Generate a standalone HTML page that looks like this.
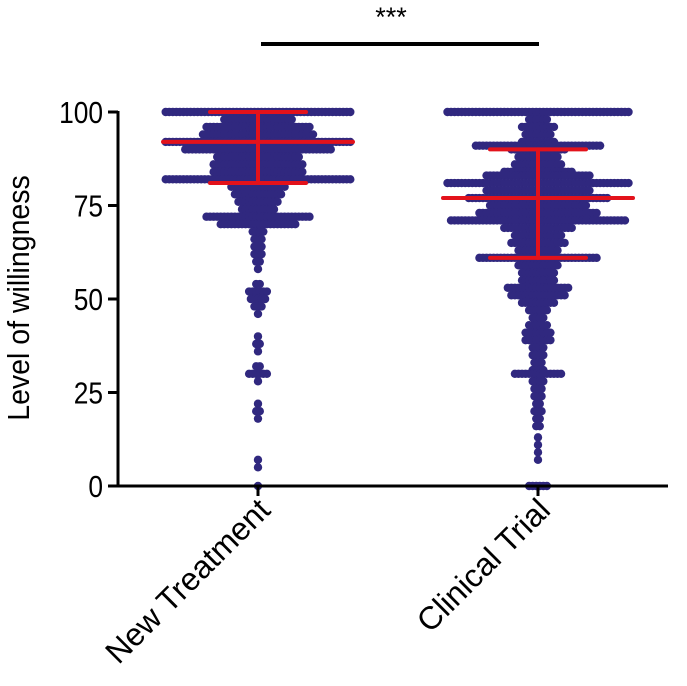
<!DOCTYPE html>
<html><head><meta charset="utf-8"><style>
body{margin:0;background:#fff}
svg text{font-family:"Liberation Sans",Arial,sans-serif;fill:#000}
</style></head><body>
<svg id="c" width="687" height="681">
</svg>
<script>
const categories=["New Treatment","Clinical Trial"];
const ntLevels=[100,98,96,94,92,90,88,86,84,82,80,78,76,74,72,70,68,66,64,62,60,58,54,52,50,48,46,40,38,36,32,30,28,22,20,18,7,5,0];
const ntCounts=[53,20,30,32,53,42,24,26,26,53,16,14,12,10,30,22,4,3,3,3,2,1,2,6,5,3,1,1,2,1,2,6,1,1,2,1,1,1,1];
const ctLevels=[100,98,96,94,92,91,90,88,86,84,83,81,79,77,75,73,71,69,67,65,63,61,59,57,55,53,51,49,47,45,43,41,39,37,35,33,31,30,28,26,24,22,20,18,16,13,11,9,7,0];
const ctCounts=[52,6,10,8,10,36,16,12,14,20,30,52,30,40,28,34,50,20,14,16,12,34,12,10,10,18,16,10,6,4,6,8,8,4,4,3,4,14,4,3,3,2,3,2,2,1,1,1,1,6];
const centerLines=[92,77];
const errLow=[81,61];
const errHigh=[100,90];
const yTicks=[0,25,50,75,100];
const svg=document.getElementById('c');const NS='http://www.w3.org/2000/svg';
function y(v){return 486-(v/100)*374;}
function xc(i){return 258+i*280;}
function mk(t,a,p){const e=document.createElementNS(NS,t);for(const k in a)e.setAttribute(k,a[k]);(p||svg).appendChild(e);return e;}
const groups=[[ntLevels,ntCounts],[ctLevels,ctCounts]];
groups.forEach((g,gi)=>{
  const gEl=mk('g',{});
  
  
  g[0].forEach((lv,j)=>{const n=g[1][j];for(let i=0;i<n;i++){
    const c=mk('circle',{cx:xc(gi)+(i-(n-1)/2)*3.55,cy:y(lv),r:4.2,fill:'#30287f'},gEl);
    
    
  }});
  const e=mk('g',{stroke:'#e3121b','stroke-width':4,'stroke-linecap':'round'});
  
  
  mk('line',{x1:xc(gi)-95,x2:xc(gi)+95,y1:y(centerLines[gi]),y2:y(centerLines[gi])},e);
  mk('line',{x1:xc(gi),x2:xc(gi),y1:y(errLow[gi]),y2:y(errHigh[gi])},e);
  mk('line',{x1:xc(gi)-48,x2:xc(gi)+48,y1:y(errLow[gi]),y2:y(errLow[gi])},e);
  mk('line',{x1:xc(gi)-48,x2:xc(gi)+48,y1:y(errHigh[gi]),y2:y(errHigh[gi])},e);
});
const ax=mk('g',{stroke:'#000','stroke-width':3});


mk('line',{x1:118,x2:118,y1:y(100)-1,y2:487},ax);
mk('line',{x1:117,x2:668,y1:486,y2:486},ax);
yTicks.forEach(t=>{mk('line',{x1:108,x2:118,y1:y(t),y2:y(t)},ax);
  const tx=mk('text',{x:0,y:0,'text-anchor':'end','font-size':31,transform:`translate(103 ${y(t)+11}) scale(0.85 1)`});tx.textContent=t;
  
  });
categories.forEach((c,i)=>{mk('line',{x1:xc(i),x2:xc(i),y1:486,y2:496},ax);
  const tx=mk('text',{x:0,y:0,'text-anchor':'end','font-size':32,transform:`translate(${xc(i)+14} 512) rotate(-45)`});tx.textContent=c;
  
  });
const yt=mk('text',{x:0,y:0,'text-anchor':'middle','font-size':31,transform:'translate(29 298) rotate(-90) scale(0.92 1)'});yt.textContent='Level of willingness';


const sb=mk('line',{x1:261,x2:539,y1:44,y2:44,stroke:'#000','stroke-width':4});


const st=mk('text',{x:391,y:26,'text-anchor':'middle','font-size':27});st.textContent='***';


</script>
</body></html>
